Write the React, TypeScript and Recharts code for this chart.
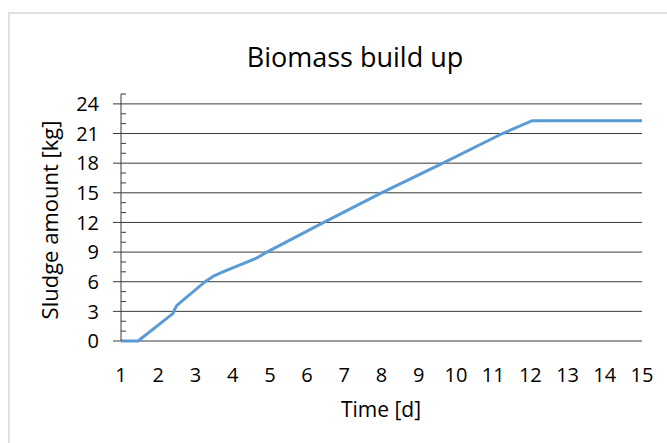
import React from "react";
import { LineChart, Line, XAxis, YAxis, ReferenceLine } from "recharts";

const DAYS = [1, 1.46, 2.4, 2.44, 2.5, 3.26, 3.5, 3.74, 4.2, 4.65, 4.92, 6.45, 8.0, 9.65, 11.25, 12.05, 15];
const SLUDGE = [0, 0, 2.8, 3.2, 3.6, 6.0, 6.6, 7.0, 7.7, 8.4, 9.0, 12, 15, 18, 21, 22.3, 22.3];
const X_TICKS = [1, 2, 3, 4, 5, 6, 7, 8, 9, 10, 11, 12, 13, 14, 15];
const Y_MAJOR = [0, 3, 6, 9, 12, 15, 18, 21, 24];
const Y_ALL = Array.from({ length: 26 }, (_, i) => i);

const TITLE = "Biomass build up";
const X_TITLE = "Time [d]";
const Y_TITLE = "Sludge amount [kg]";

const data = DAYS.map((d, i) => ({ day: d, sludge: SLUDGE[i] }));

const FONT = "'Open Sans', sans-serif";
const GRID = "#3a3a3a";

const YTick = (props: any) => {
  const { x, y, payload } = props;
  const v = payload.value;
  if (Y_MAJOR.includes(v)) {
    return (
      <g>
        <line x1={x - 8} x2={x} y1={y} y2={y} stroke={GRID} strokeWidth={1} />
        <text x={x - 22} y={y} dy="0.36em" textAnchor="end" fontSize={20} fontFamily={FONT} fill="#000">
          {v}
        </text>
      </g>
    );
  }
  return <line x1={x} x2={x + 5} y1={y} y2={y} stroke={GRID} strokeWidth={1} />;
};

export default function App() {
  return (
    <div style={{ position: "fixed", left: 0, top: 0, width: 667, height: 443, overflow: "hidden", background: "#fff" }}>
      <div
        style={{
          position: "absolute",
          left: 8,
          top: 12,
          width: 700,
          height: 500,
          border: "2px solid #e0e0e0",
        }}
      />
      <div style={{ position: "absolute", left: 0, top: 0 }}>
        <LineChart width={667} height={443} data={data} margin={{ top: 94, right: 25, bottom: 62, left: 21 }}>
          <XAxis
            dataKey="day"
            type="number"
            domain={[1, 15]}
            ticks={X_TICKS}
            axisLine={false}
            tickLine={false}
            tickSize={0}
            tickMargin={27}
            height={40}
            interval={0}
            tick={{ fontSize: 20, fontFamily: FONT, fill: "#000" }}
          />
          <YAxis
            type="number"
            domain={[0, 25]}
            ticks={Y_ALL}
            interval={0}
            width={100}
            tickSize={0}
            tickMargin={0}
            tickLine={false}
            axisLine={{ stroke: GRID, strokeWidth: 1 }}
            tick={<YTick />}
          />
          {Y_MAJOR.map((v) => (
            <ReferenceLine key={v} y={v} stroke={GRID} strokeWidth={1} ifOverflow="extendDomain" />
          ))}
          <Line
            dataKey="sludge"
            type="linear"
            stroke="#5B9BD5"
            strokeWidth={3}
            dot={false}
            isAnimationActive={false}
          />
        </LineChart>
      </div>
      <svg width={667} height={443} style={{ position: "absolute", left: 0, top: 0, pointerEvents: "none" }}>
        <text x={355} y={67} textAnchor="middle" fontSize={27} fontFamily={FONT} fill="#000">
          {TITLE}
        </text>
        <text x={381} y={417} textAnchor="middle" fontSize={21} fontFamily={FONT} fill="#000">
          {X_TITLE}
        </text>
        <text
          x={58}
          y={220}
          textAnchor="middle"
          fontSize={22}
          fontFamily={FONT}
          fill="#000"
          transform="rotate(-90, 58, 220)"
        >
          {Y_TITLE}
        </text>
      </svg>
    </div>
  );
}
